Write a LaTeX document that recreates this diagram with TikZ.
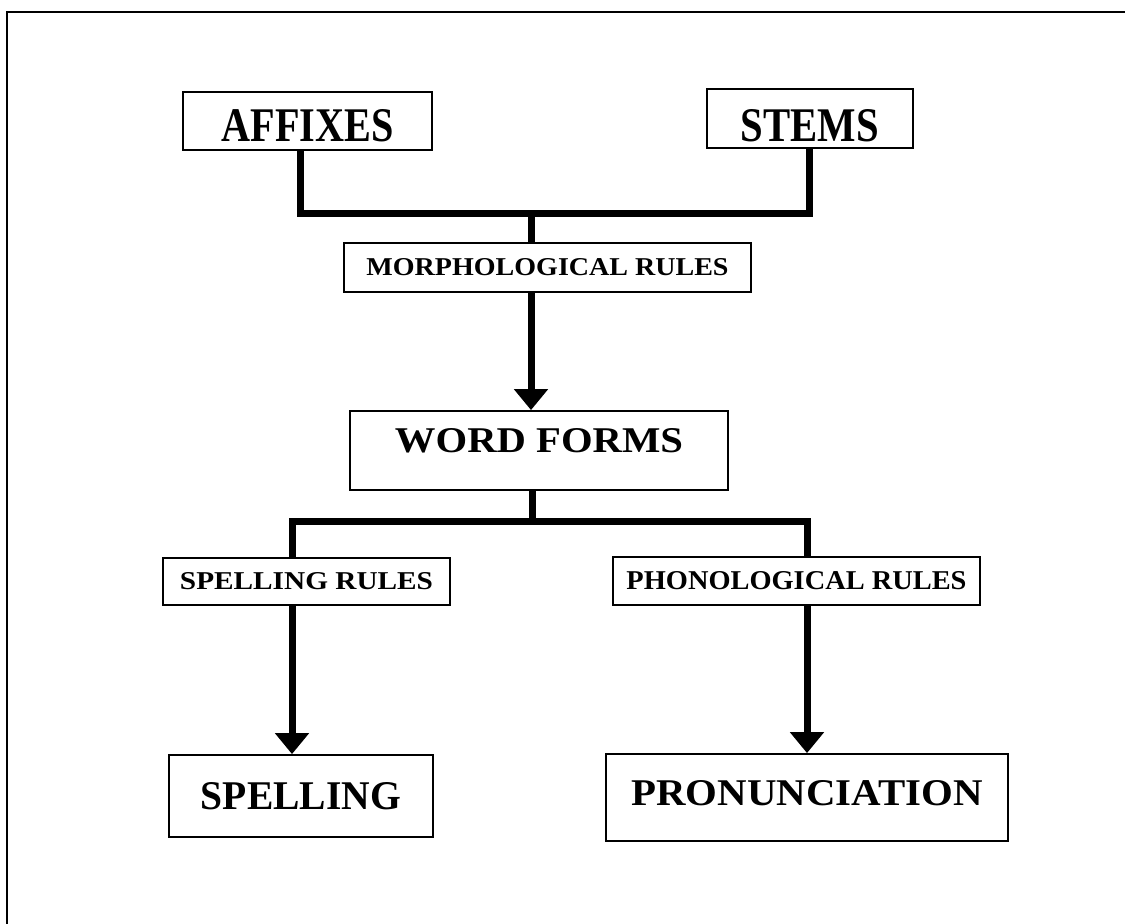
\documentclass[tikz,border=0pt]{standalone}
\usepackage{fontspec}
\setmainfont{Liberation Serif}
\usepackage{graphicx}
\usetikzlibrary{arrows.meta,backgrounds}
\newcommand{\lab}[3]{\resizebox{#1pt}{#2pt}{\bfseries #3}}
\tikzset{
  boxnode/.style={draw, line width=1.8pt, inner sep=0pt, fill=white},
  conn/.style={line width=7pt, line join=miter, line cap=rect},
  arr/.style={line width=7pt, line cap=butt, -{Triangle[width=33pt,length=21pt]}},
  frame/.style={line width=2.2pt}
}
\begin{document}
\begin{tikzpicture}[x=1pt,y=-1pt]
\useasboundingbox (0,0) rectangle (1125,924);
\draw[frame] (7,924) -- (7,12) -- (1125,12);

\node[boxnode, minimum width=249pt, minimum height=58pt, text height=42pt] (aff) at (307.5,121) {\lab{172}{32}{AFFIXES}};
\node[boxnode, minimum width=206pt, minimum height=59pt, text height=47pt] (stems) at (810,118.5) {\lab{138}{32}{STEMS}};
\node[boxnode, minimum width=407pt, minimum height=49pt] (morph) at (547.5,267.5) {\lab{362}{17}{MORPHOLOGICAL RULES}};
\node[boxnode, minimum width=378pt, minimum height=79pt, text depth=21pt] (word) at (539,450.5) {\lab{288}{24}{WORD FORMS}};
\node[boxnode, minimum width=287pt, minimum height=47pt] (sr) at (306.5,581.5) {\lab{253}{17}{SPELLING RULES}};
\node[boxnode, minimum width=367pt, minimum height=48pt] (pr) at (796.5,581) {\lab{340}{18}{PHONOLOGICAL RULES}};
\node[boxnode, minimum width=264pt, minimum height=82pt] (spell) at (301,796) {\lab{200}{27}{SPELLING}};
\node[boxnode, minimum width=402pt, minimum height=87pt, text depth=10pt] (pron) at (807,797.5) {\lab{351}{25}{PRONUNCIATION}};

\coordinate (ua) at (300,213);
\coordinate (ub) at (809,213);
\coordinate (uc) at (531,213);
\coordinate (la) at (292,521);
\coordinate (lb) at (807,521);
\coordinate (lc) at (532,521);

\begin{pgfonlayer}{background}
\draw[conn] (aff.south -| ua) -- (ua) -- (ub) -- (stems.south -| ub);
\draw[conn] (uc) -- (morph.north -| uc);
\draw[conn] (word.south -| lc) -- (lc);
\draw[conn] (sr.north -| la) -- (la) -- (lb) -- (pr.north -| lb);
\end{pgfonlayer}
\draw[arr] (morph.south -| uc) -- (word.north -| uc);
\draw[arr] (sr.south -| la) -- (spell.north -| la);
\draw[arr] (pr.south -| lb) -- (pron.north -| lb);
\end{tikzpicture}
\end{document}
